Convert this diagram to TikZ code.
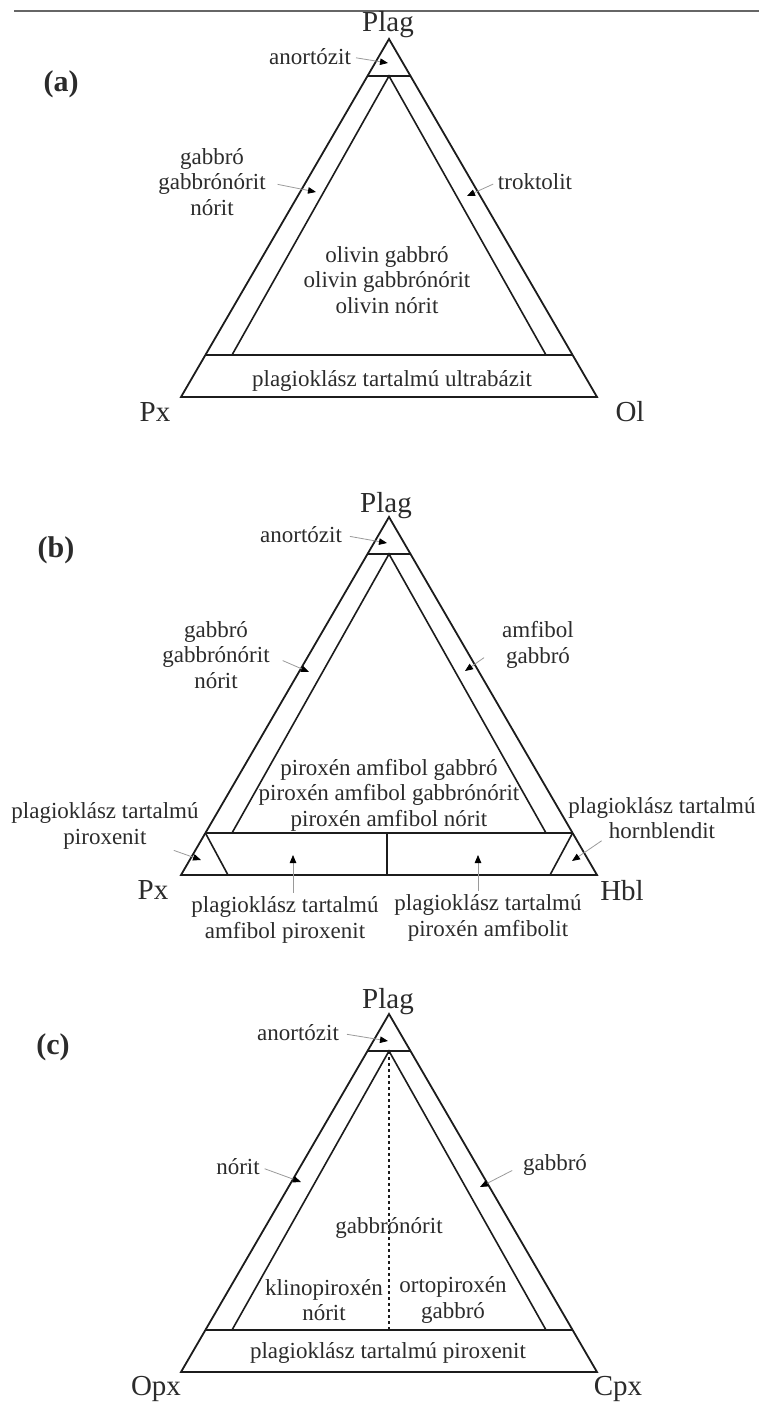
\documentclass[tikz,border=0pt]{standalone}
\usepackage{fontspec}
\setmainfont{Liberation Serif}
\usetikzlibrary{arrows.meta}
\definecolor{txt}{HTML}{2B2B2B}
\definecolor{ln}{HTML}{1C1C1C}
\definecolor{lead}{HTML}{9A9A9A}
\newcommand\mkpanel[2]{%
 \begin{scope}[shift={(0,#2)}]
  \coordinate (#1A) at (389,0);
  \coordinate (#1L) at (181,358);
  \coordinate (#1R) at (597,358);
  \coordinate (#1cl) at (367.5,37);
  \coordinate (#1cr) at (410.5,37);
  \coordinate (#1bl) at (205.4,316);
  \coordinate (#1br) at (572.6,316);
  \coordinate (#1iA) at (389,37);
  \coordinate (#1iL) at (232,316);
  \coordinate (#1iR) at (546,316);
  \draw[edge] (#1A) -- (#1R) -- (#1L) -- cycle;
  \draw[div] (#1cl) -- (#1cr);
  \draw[div] (#1bl) -- (#1br);
  \draw[div] (#1iL) -- (#1iA) -- (#1iR);
 \end{scope}}
\begin{document}
\begin{tikzpicture}[x=1pt,y=-1pt,
  lbl/.style={font=\fontsize{23}{25.5}\selectfont, text=txt, align=center, inner sep=0pt},
  vtx/.style={font=\fontsize{29}{30}\selectfont, text=txt, inner sep=0pt},
  tag/.style={font=\fontsize{30}{30}\selectfont\bfseries, text=txt, inner sep=0pt},
  edge/.style={draw=ln, line width=1.8pt, line join=miter},
  div/.style={draw=ln, line width=1.6pt},
  dotline/.style={draw=ln, line width=1.4pt, dash pattern=on 3pt off 3pt},
  leader/.style={draw=lead, line width=0.8pt, -{Triangle[length=8pt,width=6.5pt,color=black,fill=black]}},
]
\useasboundingbox (0,0) rectangle (759,1402);
\draw[draw=gray!80!black, line width=2pt] (14,11) -- (759,11);

% ---------------- panel (a)
\mkpanel{a}{39}
\node[tag] (aTag) at (61,84) {(a)};
\node[vtx] (aPlag) at (388,25) {Plag};
\node[vtx] (aPx) at (155,412) {Px};
\node[vtx] (aOl) at (630,412) {Ol};
\node[lbl] (aAn) at (310,57) {anortózit};
\node[lbl] (aGb) at (212,182) {gabbró\\gabbrónórit\\nórit};
\node[lbl] (aTr) at (535,182) {troktolit};
\node[lbl] (aOg) at (387,280) {olivin gabbró\\olivin gabbrónórit\\olivin nórit};
\node[lbl] (aUb) at (392,381) {plagioklász tartalmú ultrabázit};
\coordinate (aAnT) at (388,63);
\coordinate (aGbT) at (316,192);
\coordinate (aTrT) at (467,196);
\draw[leader, shorten <=5pt] (aAn.east) -- (aAnT);
\draw[leader, shorten <=12pt] (aGb.east) -- (aGbT);
\draw[leader, shorten <=5pt] (aTr.west) -- (aTrT);

% ---------------- panel (b)
\mkpanel{b}{517}
\begin{scope}[shift={(0,517)}]
  \coordinate (bsl1) at (205.4,316);
  \coordinate (bsl2) at (228,358);
  \coordinate (bsr1) at (572.6,316);
  \coordinate (bsr2) at (550,358);
  \coordinate (bm1) at (387,316);
  \coordinate (bm2) at (387,358);
  \draw[div] (bsl1) -- (bsl2);
  \draw[div] (bsr1) -- (bsr2);
  \draw[div] (bm1) -- (bm2);
\end{scope}
\node[tag] (bTag) at (56,550) {(b)};
\node[vtx] (bPlag) at (386,506) {Plag};
\node[vtx] (bPx) at (153,890) {Px};
\node[vtx] (bHbl) at (622,891) {Hbl};
\node[lbl] (bAn) at (301,535) {anortózit};
\node[lbl] (bGb) at (216,655) {gabbró\\gabbrónórit\\nórit};
\node[lbl] (bAg) at (538,645) {amfibol\\gabbró};
\node[lbl] (bPa) at (389,795) {piroxén amfibol gabbró\\piroxén amfibol gabbrónórit\\piroxén amfibol nórit};
\node[lbl] (bPL) at (105,826) {plagioklász tartalmú\\piroxenit};
\node[lbl] (bPR) at (662,818) {plagioklász tartalmú\\hornblendit};
\node[lbl] (bBL) at (285,920) {plagioklász tartalmú\\amfibol piroxenit};
\node[lbl] (bBR) at (488,918) {plagioklász tartalmú\\piroxén amfibolit};
\coordinate (bAnT) at (387,543);
\coordinate (bGbT) at (309,672);
\coordinate (bAgT) at (465,671);
\coordinate (bPLT) at (201,860);
\coordinate (bPRT) at (572,861);
\coordinate (bBLT) at (293,855);
\coordinate (bBRT) at (478,855);
\draw[leader, shorten <=8pt] (bAn.east) -- (bAnT);
\draw[leader, shorten <=14pt] (bGb.east) -- (bGbT);
\draw[leader, shorten <=22pt] (bAg.west) -- (bAgT);
\draw[leader, shorten <=3pt] (bPL) -- (bPLT);
\draw[leader, shorten <=3pt] (bPR.200) -- (bPRT);
\draw[leader, shorten <=4pt] (bBL.north -| bBLT) -- (bBLT);
\draw[leader, shorten <=4pt] (bBR.north -| bBRT) -- (bBRT);

% ---------------- panel (c)
\mkpanel{c}{1014}
\begin{scope}[shift={(0,1014)}]
  \coordinate (cd1) at (389,37);
  \coordinate (cd2) at (389,316);
  \draw[dotline] (cd1) -- (cd2);
\end{scope}
\node[tag] (cTag) at (53,1047) {(c)};
\node[vtx] (cPlag) at (388,1002) {Plag};
\node[vtx] (cOpx) at (156,1389) {Opx};
\node[vtx] (cCpx) at (618,1389) {Cpx};
\node[lbl] (cAn) at (298,1033) {anortózit};
\node[lbl] (cNo) at (238,1167) {nórit};
\node[lbl] (cGb) at (555,1165) {gabbró};
\node[lbl] (cGn) at (389,1228) {gabbrónórit};
\node[lbl] (cKn) at (324,1300) {klinopiroxén\\nórit};
\node[lbl] (cOg) at (453,1300) {ortopiroxén\\gabbró};
\node[lbl] (cPp) at (388,1353) {plagioklász tartalmú piroxenit};
\coordinate (cAnT) at (388,1041);
\coordinate (cNoT) at (301,1182);
\coordinate (cGbT) at (480,1187);
\draw[leader, shorten <=8pt] (cAn.east) -- (cAnT);
\draw[leader, shorten <=5pt] (cNo.east) -- (cNoT);
\draw[leader, shorten <=12pt] (cGb.west) -- (cGbT);
\end{tikzpicture}
\end{document}
